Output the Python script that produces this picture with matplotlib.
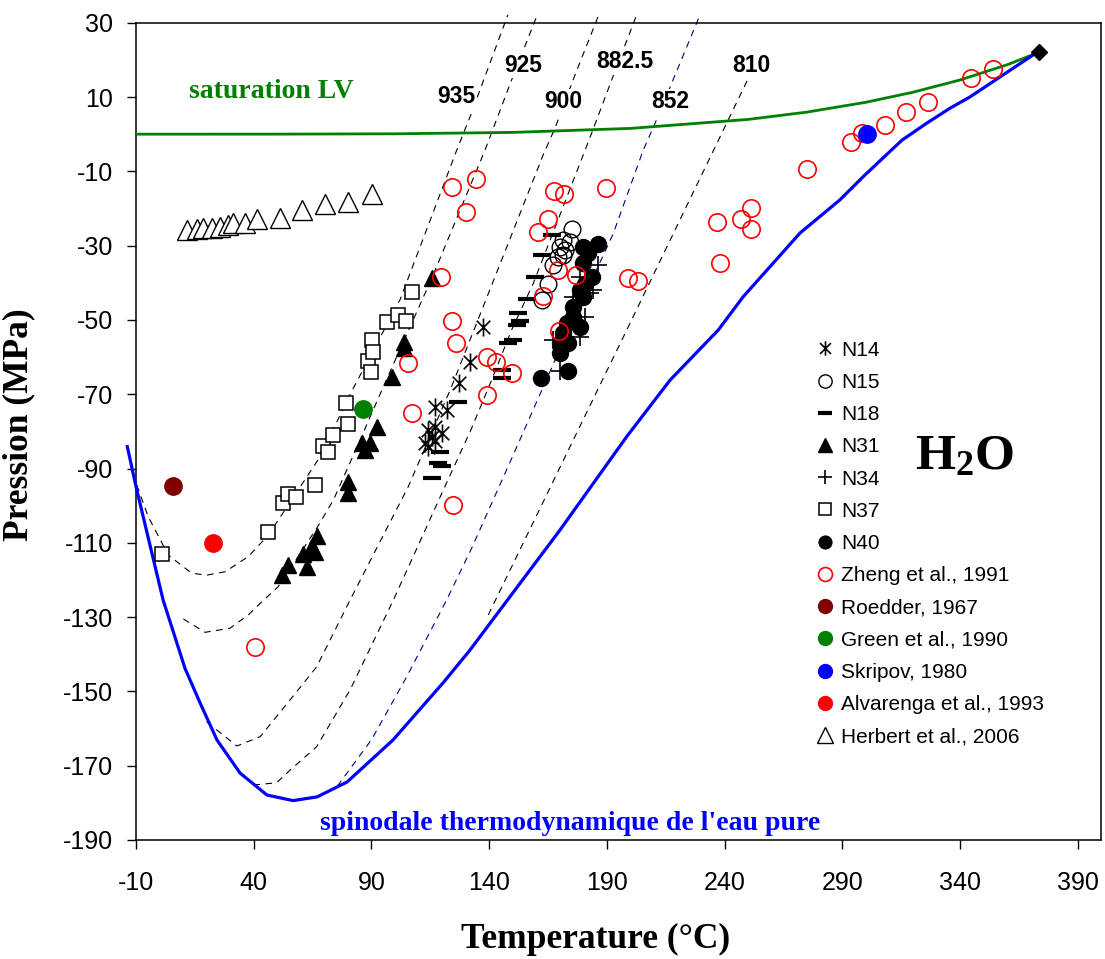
import matplotlib
matplotlib.use("Agg")
import matplotlib.pyplot as plt
from matplotlib.path import Path

plt.rcParams['font.family'] = ['Liberation Sans', 'DejaVu Sans']
plt.rcParams['axes.unicode_minus'] = False
plt.rcParams['mathtext.fontset'] = 'custom'
plt.rcParams['mathtext.bf'] = 'Liberation Serif:bold'
plt.rcParams['mathtext.rm'] = 'Liberation Serif'

# --- liquid-vapour saturation curve (green) and critical point
sat_T = [-10, 0, 20, 50, 100, 150, 200, 250, 275, 300, 320, 340, 360, 373.5]
sat_P = [0.0003, 0.0006, 0.0023, 0.0124, 0.101, 0.476, 1.555, 3.976, 5.95, 8.59, 11.3, 14.6, 18.7, 22.06]
crit_T = [373.5]
crit_P = [22.1]

# --- thermodynamic spinodal of pure water (blue)
spin_T = [-13.7, -10.0, 1.5, 10.8, 17.2, 24.4, 34.2, 45.6, 56.7, 66.9, 79.6, 99.1, 120.4,
          131.8, 140.3, 170.0, 198.4, 216.8, 237.3, 247.8, 272.0, 288.9, 298.7, 315.3,
          325.9, 335.7, 344.1, 370.9, 372.6]
spin_P = [-84.1, -94.9, -125.4, -143.8, -153.1, -163.1, -172.0, -177.9, -179.4, -178.4,
          -174.4, -163.1, -147.7, -138.9, -131.7, -106.6, -81.4, -66.2, -52.7, -43.8,
          -26.6, -17.7, -11.5, -1.6, 3.0, 7.0, 10.0, 21.3, 22.1]

# --- isochores (dashed), labelled by density
iso935_T = [-9.7, -4.8, 3.7, 13.7, 20.0, 27.8, 37.7, 46.2, 68.1, 81.1, 102.1, 126.2, 131.8, 147.9]
iso935_P = [-94.4, -103.0, -113.3, -118.2, -118.7, -117.8, -113.7, -107.9, -86.9, -69.8, -44.6, -4.3, 4.6, 32.1]
iso925_T = [10.1, 19.3, 29.9, 37.7, 43.4, 50.4, 58.5, 66.7, 73.8, 84.0, 95.0, 115.6, 138.2, 149.5, 160.4]
iso925_P = [-130.5, -134.1, -133.0, -129.4, -125.9, -121.8, -114.0, -106.1, -98.5, -84.0, -68.0, -38.8, -4.3, 14.6, 32.1]
iso900_T = [20.0, 32.8, 42.7, 55.4, 66.7, 80.9, 105.6, 123.4, 162.9, 167.9, 176.4, 186.5]
iso900_P = [-158.2, -164.7, -162.2, -152.3, -143.4, -125.4, -94.9, -68.9, -5.6, 1.6, 15.9, 32.1]
iso882_T = [39.8, 49.7, 55.4, 66.7, 80.9, 99.3, 120.5, 132.5, 141.0, 149.5, 158.7, 180.7, 183.5, 192.0, 202.6]
iso882_P = [-175.2, -174.6, -171.2, -164.9, -149.6, -125.4, -95.8, -79.2, -66.2, -52.7, -40.2, -4.3, 0.3, 14.6, 32.1]
iso852_T = [75.5, 90.0, 105.0, 121.9, 132.5, 150.5, 168.6, 192.7, 205.4, 210.4, 229.5]
iso852_P = [-175.5, -163.0, -146.0, -125.4, -111.5, -85.9, -59.9, -26.7, -4.3, 2.9, 32.1]
iso810_T = [139.6, 198.4, 250.0]
iso810_P = [-129.4, -52.7, 15.0]

iso_labels = ['935', '925', '900', '882.5', '852', '810']
label_T = [126.2, 154.5, 171.5, 197.6, 216.8, 251.4]
label_P = [10.1, 18.6, 8.7, 19.5, 8.7, 18.6]

# --- inclusion data
n14_T = [137.5, 131.8, 127.3, 116.9, 121.9, 116.9, 119.8, 114.1, 115.6, 112.7, 114.1, 117.0]
n14_P = [-51.8, -61.3, -67.1, -73.4, -74.3, -78.8, -80.5, -79.6, -81.4, -83.2, -84.1, -82.5]
n15_T = [175.0, 171.4, 174.3, 170.0, 172.2, 169.3, 171.4, 167.2, 165.1, 162.3]
n15_P = [-25.6, -28.5, -28.9, -30.3, -31.2, -33.0, -32.5, -35.2, -40.2, -44.6]
n18_T = [126.9, 119.1, 118.4, 119.8, 115.6, 145.5, 145.5, 148.1, 150.2, 151.7, 153.1, 152.3,
         155.9, 159.4, 162.3, 166.5]
n18_P = [-72.0, -85.5, -88.6, -89.3, -92.6, -65.7, -63.5, -56.3, -55.4, -51.4, -50.2, -48.2,
         -44.5, -38.4, -32.5, -27.1]
n31_T = [51.9, 54.7, 61.0, 62.5, 64.5, 66.0, 66.7, 80.1, 80.1, 85.8, 87.2, 89.4, 92.2, 98.6,
         103.9, 103.9, 115.6]
n31_P = [-118.7, -116.0, -113.0, -116.4, -111.5, -112.4, -108.2, -93.5, -96.7, -83.2, -85.0,
         -83.2, -78.7, -65.3, -55.9, -57.6, -38.8]
n34_T = [186.3, 182.8, 180.7, 178.5, 170.0, 167.2, 175.7, 178.5, 184.2]
n34_P = [-35.2, -42.8, -49.1, -54.5, -63.7, -55.4, -43.8, -38.4, -41.9]
n37_T = [0.9, 46.2, 52.3, 54.7, 57.9, 66.0, 69.3, 71.7, 73.8, 80.1, 79.0, 88.4, 89.7, 90.1,
         90.8, 96.5, 101.3, 104.6, 107.1]
n37_P = [-113.0, -107.2, -99.4, -96.9, -97.6, -94.4, -83.9, -85.5, -81.0, -78.1, -72.5, -61.1,
         -63.9, -55.4, -58.6, -50.6, -48.7, -50.3, -42.4]
n40_T = [186.3, 179.9, 182.1, 179.9, 183.5, 180.7, 178.5, 179.9, 175.7, 175.7, 178.5, 172.9,
         171.4, 170.0, 173.6, 170.0, 173.6, 161.8]
n40_P = [-29.6, -30.3, -32.1, -34.8, -38.4, -40.2, -42.0, -43.8, -46.4, -49.1, -51.8, -50.9,
         -53.6, -56.3, -56.3, -59.0, -63.7, -65.7]

zheng_T = [124.1, 134.4, 130.1, 167.5, 171.9, 189.4, 165.1, 160.8, 236.8, 246.9, 251.2, 251.2,
           238.0, 199.1, 203.3, 119.4, 169.3, 176.8, 274.8, 293.6, 298.2, 308.0, 316.8, 326.2,
           344.6, 354.0, 124.1, 125.9, 105.6, 138.9, 142.7, 149.5, 138.9, 107.1, 163.0, 169.6,
           124.6, 40.5]
zheng_P = [-14.1, -12.2, -20.9, -15.3, -16.1, -14.6, -22.8, -26.4, -23.7, -22.8, -19.8, -25.6,
           -34.8, -38.8, -39.5, -38.4, -36.6, -37.9, -9.5, -2.0, 0.2, 2.5, 6.0, 8.6,
           15.0, 17.5, -50.2, -56.1, -61.7, -60.1, -61.3, -64.4, -70.2, -75.1, -43.6, -52.9,
           -99.8, -138.0]
roedder_T, roedder_P = [5.8], [-94.7]
green_T, green_P = [86.5], [-74.0]
skripov_T, skripov_P = [300.5], [0.0]
alvarenga_T, alvarenga_P = [22.8], [-110.0]
herbert_T = [11.5, 15.8, 18.6, 22.1, 25.7, 29.2, 31.3, 36.3, 41.3, 51.1, 60.4, 70.3, 80.2, 90.1]
herbert_P = [-25.8, -25.6, -25.3, -25.2, -24.9, -24.5, -24.0, -23.8, -22.9, -22.6, -20.4,
             -18.8, -18.2, -16.1]

# asterisk like the spreadsheet one: X with a vertical bar
star = Path([(0, -1), (0, 1), (-0.75, -0.75), (0.75, 0.75), (-0.75, 0.75), (0.75, -0.75)],
            [Path.MOVETO, Path.LINETO] * 3)

fig = plt.figure(figsize=(11.05, 9.59), dpi=100)
ax = fig.add_axes([0.1231, 0.1241, 0.8737, 0.8522])

ax.plot(sat_T, sat_P, color='#008000', lw=2.0, zorder=3)
ax.plot(spin_T, spin_P, color='#0000FF', lw=2.3, zorder=3, clip_on=False)

dash = dict(lw=0.8, dashes=(6, 5), clip_on=False, zorder=2)
ax.plot(iso935_T, iso935_P, color='black', **dash)
ax.plot(iso925_T, iso925_P, color='black', **dash)
ax.plot(iso900_T, iso900_P, color='black', **dash)
ax.plot(iso882_T, iso882_P, color='black', **dash)
ax.plot(iso852_T, iso852_P, color='#000080', **dash)
ax.plot(iso810_T, iso810_P, color='black', **dash)

for t, x, y in zip(iso_labels, label_T, label_P):
    ax.text(x, y, t, ha='center', va='center', fontsize=16.5, fontweight='bold', zorder=4,
            bbox=dict(facecolor='white', edgecolor='none', pad=1))

pts = dict(ls='none', zorder=5)
h14, = ax.plot(n14_T, n14_P, marker=star, ms=13, mec='black', mew=1.2, label='N14', **pts)
h15, = ax.plot(n15_T, n15_P, marker='o', ms=12, mfc='none', mec='black', mew=1.0, label='N15', **pts)
h18, = ax.plot(n18_T, n18_P, marker='_', ms=13, mec='black', mew=3.0, label='N18', **pts)
h31, = ax.plot(n31_T, n31_P, marker='^', ms=12, color='black', label='N31', **pts)
h34, = ax.plot(n34_T, n34_P, marker='+', ms=13, mec='black', mew=1.2, label='N34', **pts)
h37, = ax.plot(n37_T, n37_P, marker='s', ms=10, mfc='white', mec='black', mew=1.1, label='N37', **pts)
h40, = ax.plot(n40_T, n40_P, marker='o', ms=11.5, color='black', label='N40', **pts)
hz, = ax.plot(zheng_T, zheng_P, marker='o', ms=12.5, mfc='none', mec='#FF0000', mew=1.2,
              label='Zheng et al., 1991', ls='none', zorder=6)
hr, = ax.plot(roedder_T, roedder_P, marker='o', ms=12.5, color='#800000',
              label='Roedder, 1967', ls='none', zorder=7)
hg, = ax.plot(green_T, green_P, marker='o', ms=12.5, color='#008000',
              label='Green et al., 1990', ls='none', zorder=7)
hs, = ax.plot(skripov_T, skripov_P, marker='o', ms=12.5, color='#0000FF',
              label='Skripov, 1980', ls='none', zorder=7)
ha_, = ax.plot(alvarenga_T, alvarenga_P, marker='o', ms=12.5, color='#FF0000',
               label='Alvarenga et al., 1993', ls='none', zorder=7)
hh, = ax.plot(herbert_T, herbert_P, marker='^', ms=14.5, mfc='white', mec='black', mew=1.0,
              label='Herbert et al., 2006', **pts)
ax.plot(crit_T, crit_P, marker='D', ms=8, color='black', ls='none', zorder=7)

leg = ax.legend(handles=[h14, h15, h18, h31, h34, h37, h40, hz, hr, hg, hs, ha_, hh],
                loc='upper left', bbox_to_anchor=(0.703, 0.611), frameon=False,
                fontsize=15, markerscale=0.8, handlelength=1.0, handletextpad=0.25,
                labelspacing=0.635, borderpad=0, borderaxespad=0)

ax.text(47.3, 11.6, 'saturation LV', color='#008000', family='Liberation Serif',
        fontweight='bold', fontsize=20, ha='center', va='center')
ax.text(174.3, -185.5, "spinodale thermodynamique de l'eau pure", color='#0000FF',
        family='Liberation Serif', fontweight='bold', fontsize=20, ha='center', va='center')
ax.text(342.0, -86.4, r'$\mathbf{H_2O}$', fontsize=37, ha='center', va='center')

ax.set_xlim(-10, 400)
ax.set_ylim(-190, 30)
ax.set_xticks(range(-10, 391, 50))
ax.set_yticks(range(-190, 31, 20))
ax.tick_params(direction='out', length=6.5, width=1.0, labelsize=18)
ax.tick_params(axis='x', pad=16)
ax.tick_params(axis='y', pad=10)
for s in ax.spines.values():
    s.set_linewidth(1.1)

ax.set_xlabel('Temperature (°C)', family='Liberation Serif', fontweight='bold', fontsize=25.5)
ax.set_ylabel('Pression (MPa)', family='Liberation Serif', fontweight='bold', fontsize=25.5)
ax.xaxis.set_label_coords(0.476, -0.102)
ax.yaxis.set_label_coords(-0.104, 0.508)

fig.savefig('out.png', dpi=100)
